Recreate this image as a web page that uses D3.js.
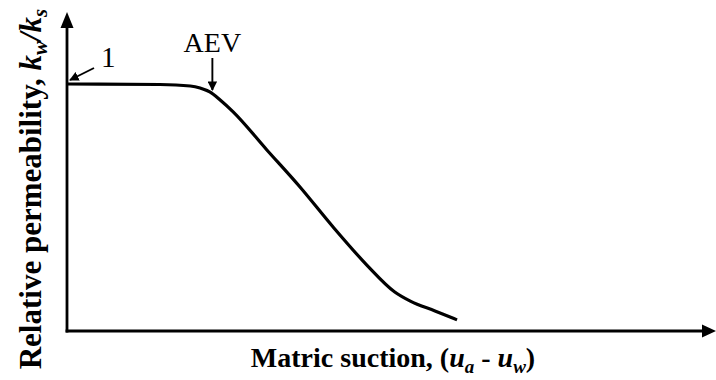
<!DOCTYPE html>
<html>
<head>
<meta charset="utf-8">
<script src="https://cdn.jsdelivr.net/npm/d3@7"></script>
<style>
  html, body { margin: 0; padding: 0; background: #fff; }
  svg { display: block; }
  text { font-family: "Liberation Serif", "Times New Roman", serif; fill: #000; }
</style>
</head>
<body>
<svg id="chart" width="716" height="380"></svg>
<script>
// Relative permeability function (schematic)
const suction = [0, 14.3, 19.0, 20.5, 22.0, 23.6, 25.6, 30.8, 35.9, 41.0, 46.2, 50.5, 52.9, 56.7, 60.1];
const relPerm = [1, 0.998, 0.992, 0.984, 0.968, 0.935, 0.887, 0.733, 0.583, 0.421, 0.267, 0.158, 0.121, 0.081, 0.045];
const aevSuction = 22.4;

const svg = d3.select("#chart");
const x0 = 67, yBase = 331;

const x = d3.scaleLinear().domain([0, 100]).range([x0, 716]);
const y = d3.scaleLinear().domain([0, 1]).range([yBase, 84]);

// Axes with arrowheads
svg.append("line").attr("x1", x0).attr("y1", yBase + 1.5).attr("x2", x0).attr("y2", 26)
  .attr("stroke", "#000").attr("stroke-width", 2.8);
svg.append("path").attr("d", `M${x0 - 6.5},28 L${x0 + 6.5},28 L${x0},12 Z`).attr("fill", "#000");

svg.append("line").attr("x1", x0 - 1.4).attr("y1", yBase).attr("x2", 704).attr("y2", yBase)
  .attr("stroke", "#000").attr("stroke-width", 2.8);
svg.append("path").attr("d", `M702,${yBase - 6.5} L702,${yBase + 6.5} L716,${yBase} Z`).attr("fill", "#000");

// Curve
const pts = suction.map((s, i) => [s, relPerm[i]]);
svg.append("path")
  .datum(pts)
  .attr("fill", "none")
  .attr("stroke", "#000")
  .attr("stroke-width", 3.2)
  .attr("d", d3.line().x(d => x(d[0])).y(d => y(d[1])).curve(d3.curveMonotoneX));

// Arrow marker for annotations
const defs = svg.append("defs");
defs.append("marker")
  .attr("id", "tip").attr("viewBox", "0 0 10 10")
  .attr("refX", 9).attr("refY", 5)
  .attr("markerWidth", 5).attr("markerHeight", 5)
  .attr("markerUnits", "strokeWidth")
  .attr("orient", "auto")
  .append("path").attr("d", "M0,0 L10,5 L0,10 Z").attr("fill", "#000");

// "1" annotation
svg.append("text").attr("x", 101).attr("y", 67).attr("font-size", 29).text("1");
svg.append("line").attr("x1", 94).attr("y1", 68).attr("x2", x0 + 3).attr("y2", 80)
  .attr("stroke", "#000").attr("stroke-width", 1.9).attr("marker-end", "url(#tip)");

// AEV annotation
const ax = x(aevSuction);
svg.append("text").attr("x", ax).attr("y", 52).attr("text-anchor", "middle")
  .attr("font-size", 28).text("AEV");
svg.append("line").attr("x1", ax).attr("y1", 58).attr("x2", ax).attr("y2", 90)
  .attr("stroke", "#000").attr("stroke-width", 1.9).attr("marker-end", "url(#tip)");

// X axis title
const xt = svg.append("text").attr("x", 393).attr("y", 367).attr("text-anchor", "middle")
  .attr("font-size", 28).attr("font-weight", "bold");
xt.append("tspan").text("Matric suction, (");
xt.append("tspan").attr("font-style", "italic").text("u");
xt.append("tspan").attr("font-style", "italic").attr("font-size", 19).attr("dy", 6).text("a");
xt.append("tspan").attr("dy", -6).text(" - ");
xt.append("tspan").attr("font-style", "italic").text("u");
xt.append("tspan").attr("font-style", "italic").attr("font-size", 19).attr("dy", 6).text("w");
xt.append("tspan").attr("dy", -6).text(")");

// Y axis title
const yt = svg.append("text").attr("transform", "translate(41,189) rotate(-90)")
  .attr("text-anchor", "middle").attr("font-size", 31).attr("font-weight", "bold");
yt.append("tspan").text("Relative permeability, ");
yt.append("tspan").attr("font-style", "italic").text("k");
yt.append("tspan").attr("font-style", "italic").attr("font-size", 21).attr("dy", 6).text("w");
yt.append("tspan").attr("font-style", "italic").attr("dy", -6).text("/k");
yt.append("tspan").attr("font-style", "italic").attr("font-size", 21).attr("dy", 6).text("s");
</script>
</body>
</html>
